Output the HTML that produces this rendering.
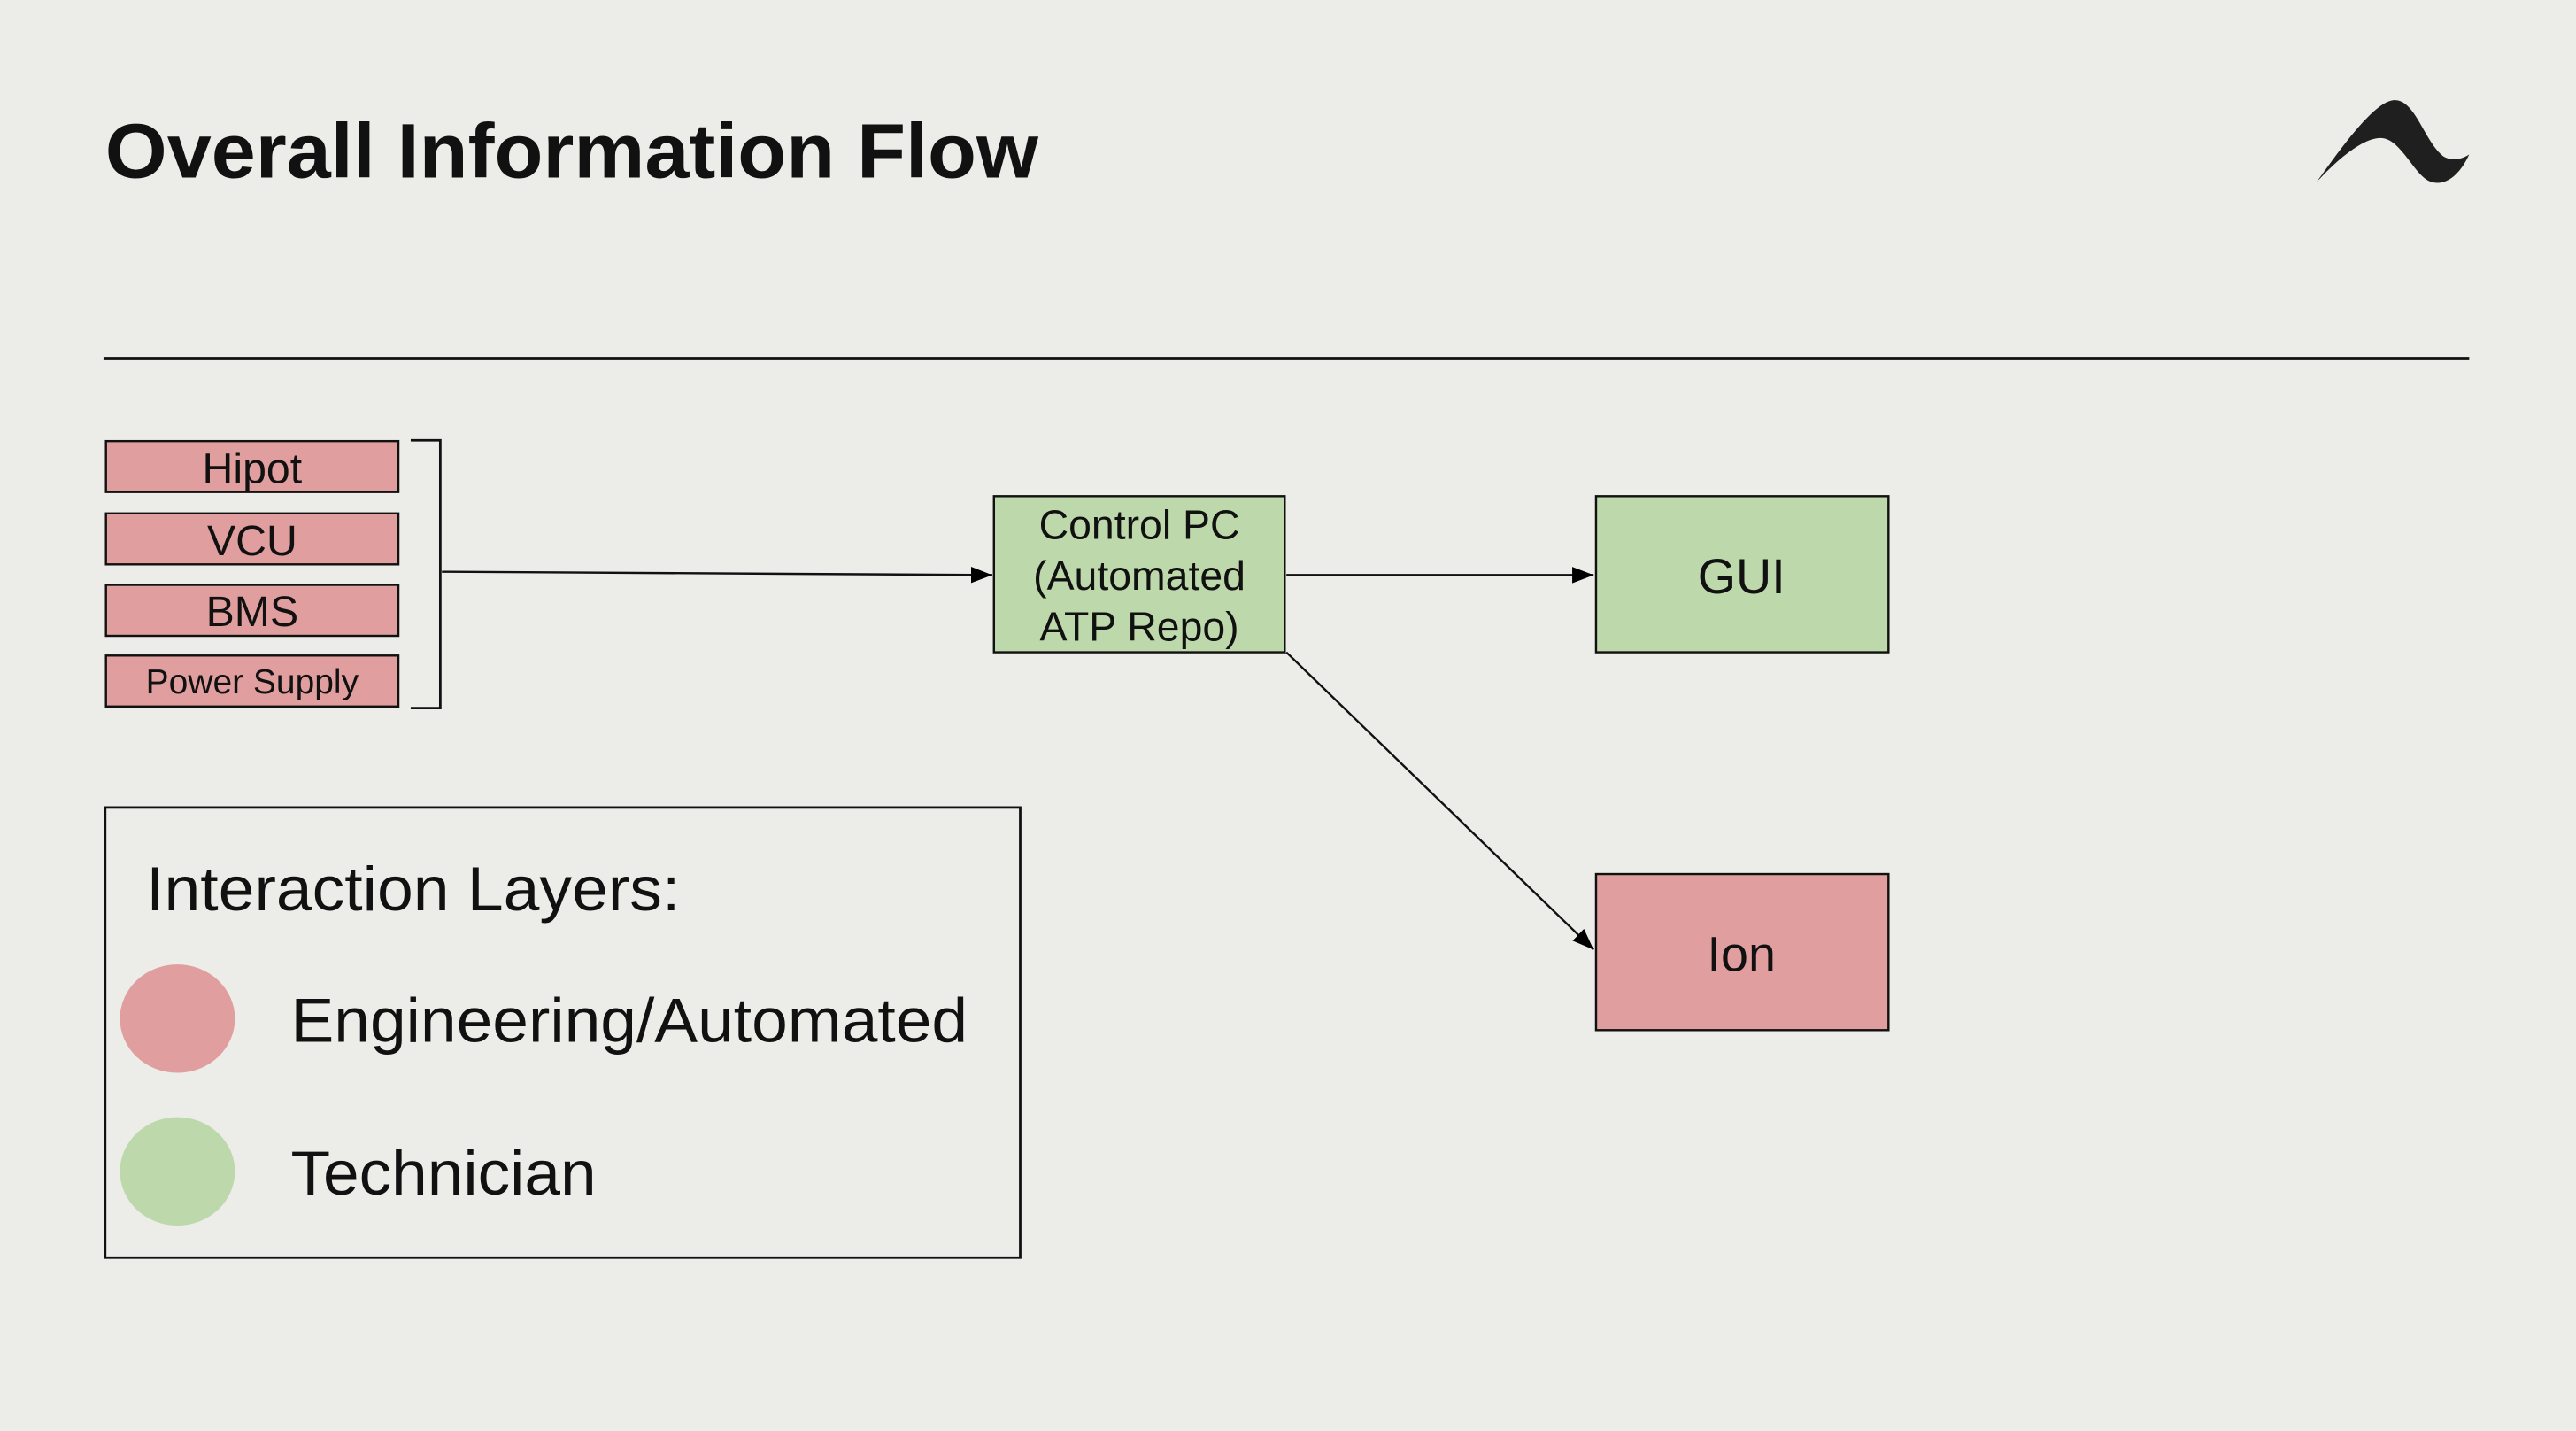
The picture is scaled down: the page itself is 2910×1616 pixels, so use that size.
<!DOCTYPE html>
<html><head><style>
html,body{margin:0;padding:0;background:#ecece8;}
svg{display:block}
text{font-family:"Liberation Sans",Arial,sans-serif;fill:#111}
</style></head><body>
<svg width="2910" height="1616" viewBox="0 0 1568 871" preserveAspectRatio="none">
<defs><marker id="a" markerWidth="13" markerHeight="10" refX="13" refY="5" orient="auto" markerUnits="userSpaceOnUse"><path d="M0,0 L13,5 L0,10 z" fill="#000"/></marker></defs>
<rect width="1568" height="871" fill="#ecece8"/>
<text x="64" y="108" font-size="47" font-weight="bold" textLength="568" lengthAdjust="spacingAndGlyphs">Overall Information Flow</text>
<path d="M1410,111 C1425,90 1445,62 1457,61 C1470,60 1475,85 1487,95 C1495,100 1503,94 1503,94 C1498,105 1490,113 1481,111 C1470,109 1462,84 1449,84 C1437,84 1420,100 1410,111 Z" fill="#1f1f1f"/>
<line x1="63" y1="218" x2="1503" y2="218" stroke="#111" stroke-width="1.5"/>
<g stroke="#111" stroke-width="1.3" fill="#e09e9e">
<rect x="64.5" y="268.5" width="178" height="31"/>
<rect x="64.5" y="312.5" width="178" height="31"/>
<rect x="64.5" y="356" width="178" height="31"/>
<rect x="64.5" y="399" width="178" height="31"/>
<rect x="971.5" y="532" width="178" height="95"/>
</g>
<g stroke="#111" stroke-width="1.3" fill="#bdd8aa">
<rect x="605" y="302" width="177" height="95"/>
<rect x="971.5" y="302" width="178" height="95"/>
</g>
<text x="153.5" y="294" font-size="26" text-anchor="middle">Hipot</text>
<text x="153.5" y="338" font-size="26" text-anchor="middle">VCU</text>
<text x="153.5" y="381" font-size="26" text-anchor="middle">BMS</text>
<text x="153.5" y="422" font-size="21" text-anchor="middle">Power Supply</text>
<text x="693.5" y="328" font-size="25" text-anchor="middle">Control PC</text>
<text x="693.5" y="359" font-size="25" text-anchor="middle">(Automated</text>
<text x="693.5" y="390" font-size="25" text-anchor="middle">ATP Repo)</text>
<text x="1060" y="361" font-size="30" text-anchor="middle">GUI</text>
<text x="1060" y="591" font-size="30" text-anchor="middle">Ion</text>
<path d="M250,268 H268 V431 H250" fill="none" stroke="#111" stroke-width="1.5"/>
<g stroke="#111" stroke-width="1.3" fill="none">
<line x1="269" y1="348" x2="604" y2="350" marker-end="url(#a)"/>
<line x1="783" y1="350" x2="970" y2="350" marker-end="url(#a)"/>
<line x1="783" y1="397" x2="970" y2="578" marker-end="url(#a)"/>
</g>
<rect x="64" y="491.5" width="557" height="274" fill="none" stroke="#111" stroke-width="1.5"/>
<text x="89" y="554" font-size="38" textLength="325" lengthAdjust="spacingAndGlyphs">Interaction Layers:</text>
<ellipse cx="108" cy="620" rx="35" ry="33" fill="#e09e9e"/>
<ellipse cx="108" cy="713" rx="35" ry="33" fill="#bdd8aa"/>
<text x="177" y="634" font-size="38" textLength="412" lengthAdjust="spacingAndGlyphs">Engineering/Automated</text>
<text x="177" y="727" font-size="38" textLength="186" lengthAdjust="spacingAndGlyphs">Technician</text>
</svg>
</body></html>
